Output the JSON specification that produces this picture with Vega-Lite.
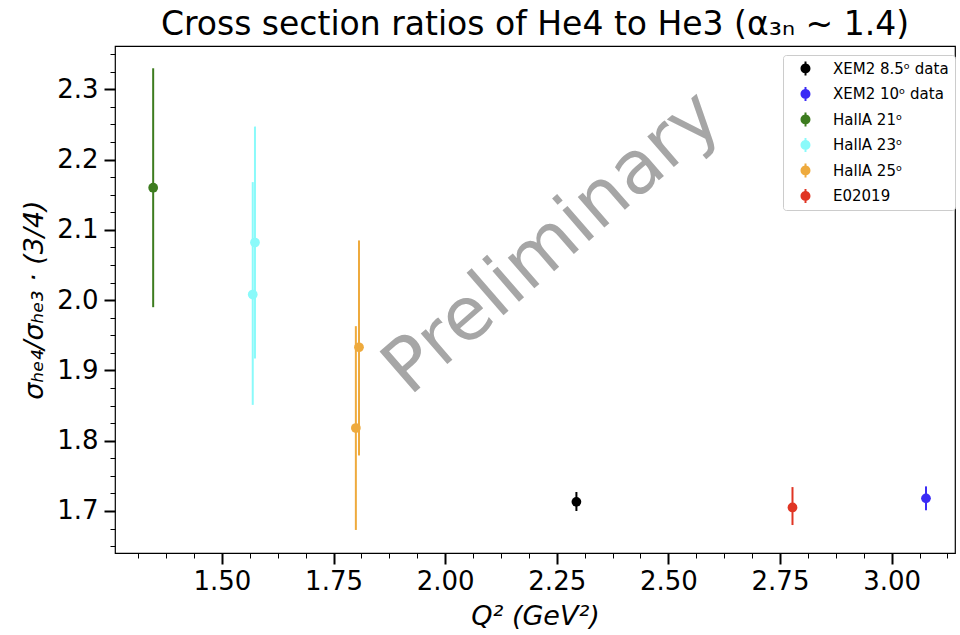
{
  "$schema": "https://vega.github.io/schema/vega-lite/v6.json",
  "autosize": "none",
  "width": 840,
  "height": 507,
  "padding": {"left": 115, "top": 46, "right": 5, "bottom": 82},
  "background": "white",
  "config": {
    "font": "DejaVu Sans",
    "view": {"stroke": "#000000", "strokeWidth": 1.2},
    "axis": {"grid": false, "domain": false, "tickColor": "#000000", "labelColor": "#000000", "titleColor": "#000000", "labelFont": "DejaVu Sans", "titleFont": "DejaVu Sans", "titleFontWeight": "normal"}
  },
  "title": {"text": "Cross section ratios of He4 to He3 (α₃ₙ ~ 1.4)", "fontSize": 33, "fontWeight": "normal", "font": "DejaVu Sans", "color": "#000000", "anchor": "middle", "offset": 4},
  "datasets": {
    "pts": [
      {"series": "HallA 21ᵒ", "q2": 1.346, "ratio": 2.160, "lo": 1.990, "hi": 2.330},
      {"series": "HallA 23ᵒ", "q2": 1.574, "ratio": 2.082, "lo": 1.917, "hi": 2.247},
      {"series": "HallA 23ᵒ", "q2": 1.569, "ratio": 2.008, "lo": 1.851, "hi": 2.168},
      {"series": "HallA 25ᵒ", "q2": 1.807, "ratio": 1.933, "lo": 1.779, "hi": 2.085},
      {"series": "HallA 25ᵒ", "q2": 1.800, "ratio": 1.818, "lo": 1.673, "hi": 1.963},
      {"series": "XEM2 8.5ᵒ data", "q2": 2.294, "ratio": 1.713, "lo": 1.700, "hi": 1.727},
      {"series": "E02019", "q2": 2.778, "ratio": 1.705, "lo": 1.680, "hi": 1.734},
      {"series": "XEM2 10ᵒ data", "q2": 3.077, "ratio": 1.718, "lo": 1.701, "hi": 1.735}
    ],
    "wm": [{"label": "Preliminary", "q2": 2.241, "ratio": 2.081}]
  },
  "layer": [
    {
      "data": {"name": "wm"},
      "mark": {"type": "text", "angle": 319, "fontSize": 74, "font": "DejaVu Sans", "color": "#a6a6a6", "align": "center", "baseline": "middle"},
      "encoding": {
        "x": {"field": "q2", "type": "quantitative", "scale": {"domain": [1.2605, 3.142], "nice": false, "zero": false}, "axis": null},
        "y": {"field": "ratio", "type": "quantitative", "scale": {"domain": [1.6402, 2.3617], "nice": false, "zero": false}, "axis": null},
        "text": {"field": "label", "type": "nominal"}
      }
    },
    {
      "data": {"name": "pts"},
      "mark": {"type": "rule", "strokeWidth": 2},
      "encoding": {
        "x": {"field": "q2", "type": "quantitative", "axis": {"orient": "bottom", "values": [1.3125, 1.375, 1.4375, 1.5625, 1.625, 1.6875, 1.8125, 1.875, 1.9375, 2.0625, 2.125, 2.1875, 2.3125, 2.375, 2.4375, 2.5625, 2.625, 2.6875, 2.8125, 2.875, 2.9375, 3.0625, 3.125], "labels": false, "tickSize": 5, "tickWidth": 1, "title": null}},
        "y": {"field": "lo", "type": "quantitative", "axis": {"orient": "left", "values": [1.65, 1.675, 1.725, 1.75, 1.775, 1.825, 1.85, 1.875, 1.925, 1.95, 1.975, 2.025, 2.05, 2.075, 2.125, 2.15, 2.175, 2.225, 2.25, 2.275, 2.325, 2.35], "labels": false, "tickSize": 5, "tickWidth": 1, "title": null}},
        "y2": {"field": "hi"},
        "color": {"field": "series", "type": "nominal", "legend": null}
      }
    },
    {
      "data": {"name": "pts"},
      "mark": {"type": "point", "filled": true, "opacity": 1, "size": 95, "shape": "circle"},
      "encoding": {
        "x": {"field": "q2", "type": "quantitative", "axis": {"orient": "bottom", "values": [1.5, 1.75, 2.0, 2.25, 2.5, 2.75, 3.0], "format": ".2f", "tickSize": 11, "tickWidth": 2, "labelFontSize": 26, "labelPadding": 4, "title": "Q² (GeV²)", "titleFontSize": 27, "titleFontStyle": "italic", "titlePadding": 9}},
        "y": {"field": "ratio", "type": "quantitative", "axis": {"orient": "left", "values": [1.7, 1.8, 1.9, 2.0, 2.1, 2.2, 2.3], "format": ".1f", "tickSize": 11, "tickWidth": 2, "labelFontSize": 26, "labelPadding": 6, "title": "σₕₑ₄/σₕₑ₃ · (3/4)", "titleFontSize": 27, "titleFontStyle": "italic", "titlePadding": 8}},
        "color": {
          "field": "series", "type": "nominal",
          "scale": {
            "domain": ["XEM2 8.5ᵒ data", "XEM2 10ᵒ data", "HallA 21ᵒ", "HallA 23ᵒ", "HallA 25ᵒ", "E02019"],
            "range": ["#000000", "#3b2cf5", "#3d7c1f", "#8afafa", "#eeaa3d", "#e03524"]
          },
          "legend": {
            "orient": "none", "legendX": 668, "legendY": 9, "title": null,
            "symbolType": "M-0.71,0A0.71,0.71,0,1,1,0.71,0A0.71,0.71,0,1,1,-0.71,0ZM-0.14,-1H0.14V1H-0.14Z",
            "symbolSize": 196, "symbolStrokeWidth": 0, "symbolOpacity": 1, "symbolOffset": 9,
            "labelFontSize": 15, "labelFont": "DejaVu Sans", "labelColor": "#000000", "labelOffset": 20, "labelLimit": 200,
            "rowPadding": 9.5, "padding": 6, "strokeColor": "#cccccc", "cornerRadius": 3, "fillColor": "#ffffff"
          }
        }
      }
    }
  ],
  "resolve": {"axis": {"x": "independent", "y": "independent"}, "legend": {"color": "independent"}}
}
